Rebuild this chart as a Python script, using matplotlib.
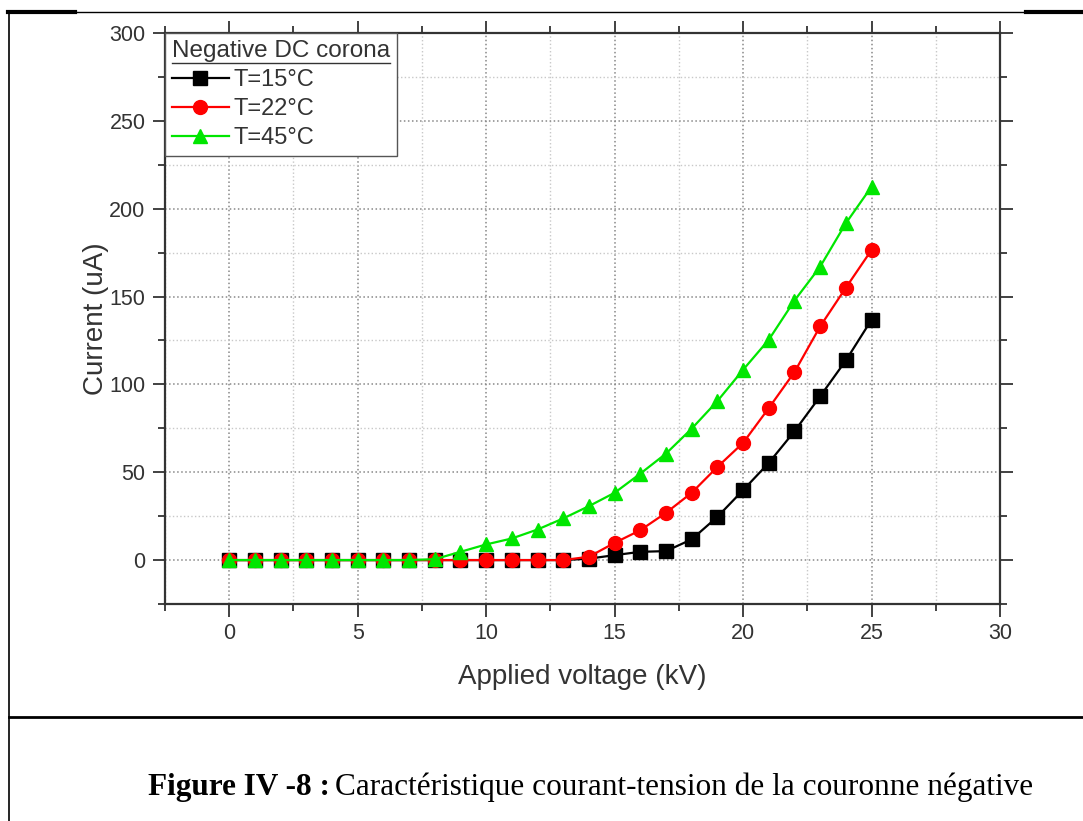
# Negative DC corona: current vs applied voltage at three temperatures

import numpy as np
import matplotlib.pyplot as plt
from matplotlib.lines import Line2D
from matplotlib.ticker import MultipleLocator

# Data
voltage = list(range(0, 26))
current_15 = [0, 0, 0, 0, 0, 0, 0, 0, 0, 0, 0, 0, 0, 0, 0.8,
              2.8, 4.7, 5.1, 11.8, 24.6, 39.8, 55.3, 73.3, 93.2, 113.6, 136.8]
current_22 = [0, 0, 0, 0, 0, 0, 0, 0, 0, 0, 0, 0, 0, 0, 1.9,
              9.8, 17, 26.9, 38.3, 53, 66.7, 86.5, 107, 133, 155, 176.5]
current_45 = [0, 0, 0, 0, 0, 0, 0, 0, 0.5, 4.7, 8.9, 12.3, 17.4, 23.7, 30.7,
              38.3, 49.2, 60.6, 74.8, 90.5, 108.3, 125.4, 147.7, 167, 191.7, 212.5]
labels = ['T=15°C', 'T=22°C', 'T=45°C']
legend_title = 'Negative DC corona'

plt.rcParams['font.family'] = ['Liberation Sans', 'DejaVu Sans']

fig = plt.figure(figsize=(10.83, 8.21), dpi=100)
W, H = 1083, 821
ax = fig.add_axes([165 / W, 1 - 604 / H, 835 / W, 571 / H])

ax.plot(voltage, current_15, color='black', marker='s', markersize=9.5, lw=1.6, label=labels[0], zorder=3)
ax.plot(voltage, current_22, color='#ff0000', marker='o', markersize=10, lw=1.6, label=labels[1], zorder=4)
ax.plot(voltage, current_45, color='#00e600', marker='^', markersize=10.5, lw=1.6, label=labels[2], zorder=5)

ax.set_xlim(-2.5, 30)
ax.set_ylim(-25, 300)
ax.xaxis.set_major_locator(MultipleLocator(5))
ax.xaxis.set_minor_locator(MultipleLocator(2.5))
ax.yaxis.set_major_locator(MultipleLocator(50))
ax.yaxis.set_minor_locator(MultipleLocator(25))

ax.grid(which='major', linestyle=':', color='#888888', lw=1.1, zorder=0)
ax.grid(which='minor', linestyle=':', color='#c8c8c8', lw=1.0, zorder=0)

ax.tick_params(which='both', direction='out', top=True, right=True, colors='#333333',
               labelcolor='#333333', labelsize=15.5, width=1.3)
ax.tick_params(which='major', length=9, pad=5)
ax.tick_params(which='minor', length=5)
for side in ax.spines.values():
    side.set_linewidth(1.6)
    side.set_color('#333333')

ax.set_xlabel('Applied voltage (kV)', fontsize=20, color='#333333', labelpad=14)
ax.set_ylabel('Current (uA)', fontsize=20, color='#333333', labelpad=0)

leg = ax.legend(loc='upper left', title=legend_title, fontsize=17, title_fontsize=17.5,
                handlelength=2.4, handletextpad=0.2, borderaxespad=0, borderpad=0.3,
                labelspacing=0.3, fancybox=False, framealpha=1, edgecolor='#555555')
leg.get_title().set_color('#333333')
leg._legend_box.align = 'left'
for t in leg.get_texts():
    t.set_color('#333333')
leg.get_frame().set_linewidth(1.0)

# page decoration: table cell borders
fig.add_artist(Line2D([8 / W, 75 / W], [1 - 12 / H] * 2, color='black', lw=3))
fig.add_artist(Line2D([75 / W, 1026 / W], [1 - 12 / H] * 2, color='black', lw=1))
fig.add_artist(Line2D([1026 / W, 1], [1 - 12 / H] * 2, color='black', lw=3))
fig.add_artist(Line2D([9 / W, 9 / W], [0, 1 - 11 / H], color='black', lw=1.2))
fig.add_artist(Line2D([9 / W, 1], [1 - 717 / H] * 2, color='black', lw=2))

cap_bold = fig.text(148 / W, 1 - 795 / H, 'Figure IV -8 :', family='Liberation Serif',
                    weight='bold', fontsize=22.5, va='baseline', ha='left')

# underline the legend title, place the caption's second part
fig.canvas.draw()
bb = leg.get_title().get_window_extent()
fig.add_artist(Line2D([bb.x0 / W, bb.x1 / W], [(bb.y0 - 1) / H] * 2, color='#333333', lw=1))
cb = cap_bold.get_window_extent()
fig.text(cb.x1 / W + 5 / W, 1 - 795 / H, 'Caractéristique courant-tension de la couronne négative',
         family='Liberation Serif', fontsize=22.5, va='baseline', ha='left')

fig.savefig('out.png', dpi=100)
